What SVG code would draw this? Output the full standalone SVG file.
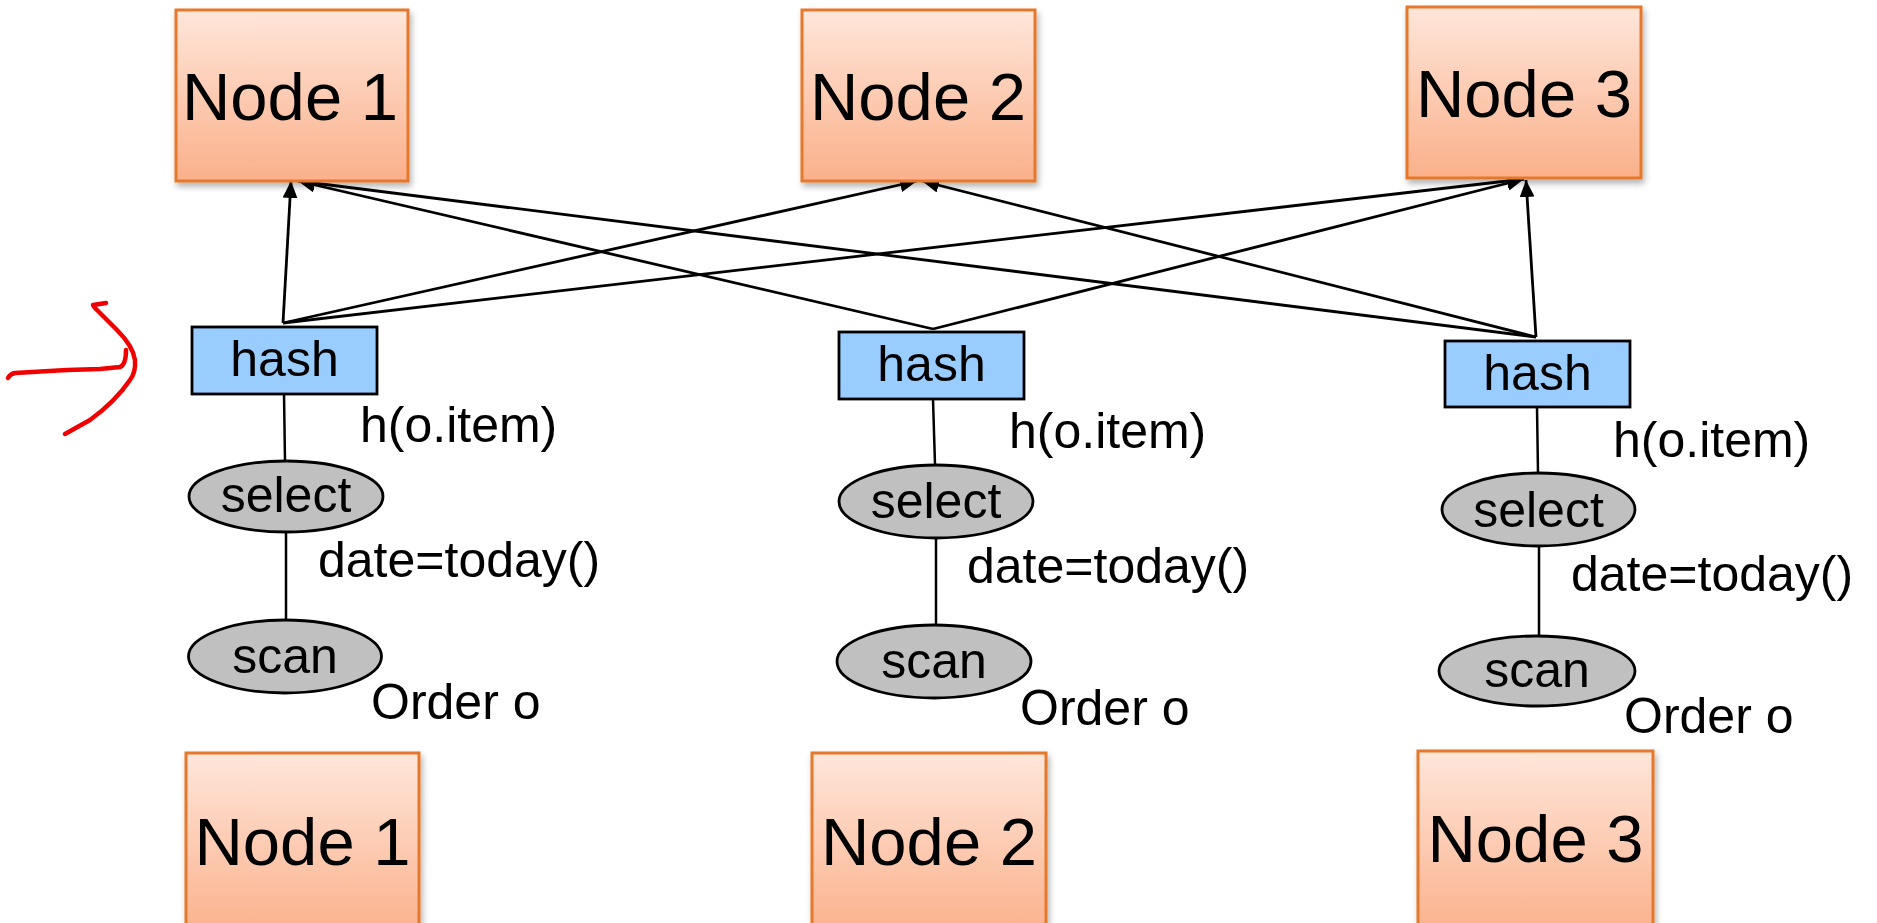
<svg xmlns="http://www.w3.org/2000/svg" width="1877" height="923" viewBox="0 0 1877 923">
<defs>
<linearGradient id="nodeGrad" x1="0" y1="0" x2="0" y2="1">
<stop offset="0" stop-color="#FFE6DA"/>
<stop offset="1" stop-color="#FAB08A"/>
</linearGradient>
<filter id="shadow" x="-10%" y="-10%" width="125%" height="125%">
<feDropShadow dx="2" dy="4" stdDeviation="3" flood-color="#000" flood-opacity="0.3"/>
</filter>
<marker id="arrow" markerUnits="userSpaceOnUse" markerWidth="17" markerHeight="15" refX="17" refY="7.5" orient="auto">
<path d="M0,0 L17,7.5 L0,15 Z" fill="#000"/>
</marker>
</defs>
<style>
.node{fill:url(#nodeGrad);stroke:#E5782A;stroke-width:3;filter:url(#shadow)}
.nodetxt{font-family:"Liberation Sans",Arial,sans-serif;font-size:67px;fill:#000;text-anchor:middle}
.hash{fill:#99CCFF;stroke:#000;stroke-width:2.8}
.op{fill:#C0C0C0;stroke:#000;stroke-width:2.8}
.optxt{font-family:"Liberation Sans",Arial,sans-serif;font-size:50px;fill:#000;text-anchor:middle}
.lbl{font-family:"Liberation Sans",Arial,sans-serif;font-size:50px;fill:#000}
.edge{stroke:#000;stroke-width:2.5;fill:none}
.arr{stroke:#000;stroke-width:2.8;fill:none;marker-end:url(#arrow)}
.red{stroke:#F00000;stroke-width:4.5;fill:none;stroke-linecap:round;stroke-linejoin:round}
</style>

<g id="connectors">
<line class="arr" x1="283" y1="323" x2="291" y2="181"/>
<line class="arr" x1="283" y1="323" x2="917" y2="181"/>
<line class="arr" x1="283" y1="323" x2="1524" y2="179"/>
<line class="arr" x1="933" y1="329" x2="298" y2="181"/>
<line class="arr" x1="933" y1="329" x2="1524" y2="179"/>
<line class="arr" x1="1536" y1="337" x2="298" y2="181"/>
<line class="arr" x1="1536" y1="337" x2="922" y2="181"/>
<line class="arr" x1="1536" y1="337" x2="1526" y2="180"/>
<line class="edge" x1="284" y1="394" x2="285" y2="461"/>
<line class="edge" x1="286" y1="532" x2="286" y2="620"/>
<line class="edge" x1="933" y1="399" x2="935" y2="465"/>
<line class="edge" x1="936" y1="538" x2="936" y2="625"/>
<line class="edge" x1="1537" y1="407" x2="1538" y2="473"/>
<line class="edge" x1="1539" y1="546" x2="1539" y2="636"/>
</g>

<g id="top-node-1">
<rect class="node" x="176" y="10" width="232" height="171"/>
<text class="nodetxt" x="290" y="120">Node 1</text>
</g>
<g id="top-node-2">
<rect class="node" x="802" y="10" width="233" height="171"/>
<text class="nodetxt" x="918" y="120">Node 2</text>
</g>
<g id="top-node-3">
<rect class="node" x="1407" y="7" width="234" height="171"/>
<text class="nodetxt" x="1524" y="117">Node 3</text>
</g>

<g id="hash-1">
<rect class="hash" x="192" y="327" width="185" height="67"/>
<text class="optxt" x="284.5" y="376">hash</text>
</g>
<g id="hash-2">
<rect class="hash" x="839" y="332" width="185" height="67"/>
<text class="optxt" x="931.5" y="381">hash</text>
</g>
<g id="hash-3">
<rect class="hash" x="1445" y="341" width="185" height="66"/>
<text class="optxt" x="1537.5" y="390">hash</text>
</g>

<g id="select-1">
<ellipse class="op" cx="286" cy="496.5" rx="97" ry="35.5"/>
<text class="optxt" x="286" y="512">select</text>
</g>
<g id="select-2">
<ellipse class="op" cx="936" cy="501.5" rx="97" ry="36.5"/>
<text class="optxt" x="936" y="518">select</text>
</g>
<g id="select-3">
<ellipse class="op" cx="1538.5" cy="509.5" rx="96.5" ry="36.5"/>
<text class="optxt" x="1538.5" y="527">select</text>
</g>

<g id="scan-1">
<ellipse class="op" cx="285" cy="656.5" rx="96.5" ry="36.5"/>
<text class="optxt" x="285" y="673">scan</text>
</g>
<g id="scan-2">
<ellipse class="op" cx="934" cy="661.5" rx="97" ry="36.5"/>
<text class="optxt" x="934" y="678">scan</text>
</g>
<g id="scan-3">
<ellipse class="op" cx="1537" cy="671" rx="98" ry="35"/>
<text class="optxt" x="1537" y="687">scan</text>
</g>

<g id="labels">
<text class="lbl" x="360" y="442">h(o.item)</text>
<text class="lbl" x="1009" y="448">h(o.item)</text>
<text class="lbl" x="1613" y="457">h(o.item)</text>
<text class="lbl" x="318" y="577">date=today()</text>
<text class="lbl" x="967" y="583">date=today()</text>
<text class="lbl" x="1571" y="591">date=today()</text>
<text class="lbl" x="371" y="719">Order o</text>
<text class="lbl" x="1020" y="725">Order o</text>
<text class="lbl" x="1624" y="733">Order o</text>
</g>

<g id="bottom-node-1">
<rect class="node" x="186" y="753" width="233" height="185"/>
<text class="nodetxt" x="302.5" y="865">Node 1</text>
</g>
<g id="bottom-node-2">
<rect class="node" x="812" y="753" width="234" height="185"/>
<text class="nodetxt" x="929" y="865">Node 2</text>
</g>
<g id="bottom-node-3">
<rect class="node" x="1418" y="751" width="235" height="187"/>
<text class="nodetxt" x="1535.5" y="862">Node 3</text>
</g>

<g id="annotation">
<path class="red" d="M8,378 Q10,374 15,373 L67,370 L100,369 L120,367 Q126,365 126,350"/>
<path class="red" d="M106,303 L93,305 L95,308 L117,330 Q133,346 135,360 Q136,372 130,380 Q115,402 90,420 L65,434"/>
</g>
</svg>
